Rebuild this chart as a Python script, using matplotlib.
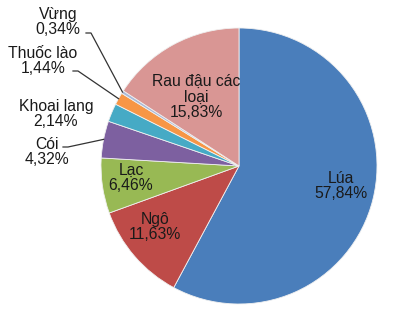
import numpy as np
import matplotlib
matplotlib.use("Agg")
import matplotlib.pyplot as plt

plt.rcParams['font.family'] = ['Liberation Sans', 'DejaVu Sans']

# ── data ──
crops = ['Lúa', 'Ngô', 'Lạc', 'Cói', 'Khoai lang', 'Thuốc lào', 'Vừng',
         'Rau đậu các\nloại']
shares = [57.84, 11.63, 6.46, 4.32, 2.14, 1.44, 0.34, 15.83]
share_text = ['57,84%', '11,63%', '6,46%', '4,32%', '2,14%', '1,44%',
              '0,34%', '15,83%']
colors = ['#4A7EBB', '#BE4B48', '#98B954', '#7D60A0', '#46AAC5',
          '#F79646', '#A9B9D8', '#D99694']

W, H = 399, 314
cx, cy, R = 239, 148, 138   # pie centre / radius in pixel units (y up)

fig = plt.figure(figsize=(W / 100, H / 100), dpi=100)
ax = fig.add_axes([0, 0, 1, 1])

wedges, _ = ax.pie(shares, colors=colors, startangle=90, counterclock=False,
                   center=(cx, cy), radius=R, frame=True,
                   wedgeprops=dict(edgecolor='#f0f0f0', linewidth=0.6))
ax.set_xlim(0, W)
ax.set_ylim(0, H)
ax.set_aspect('equal')
ax.axis('off')

# label anchor positions (pixel, y up)
label_pos = {
    'Lúa': (341, 128),
    'Ngô': (155, 87),
    'Lạc': (131, 136),
    'Cói': (47, 162),
    'Khoai lang': (56, 200),
    'Thuốc lào': (43, 253),
    'Vừng': (58, 292),
    'Rau đậu các\nloại': (196, 217),
}
leader_start = {
    'Cói': (63, 167),
    'Thuốc lào': (73, 243),
    'Vừng': (86, 281),
}

fs = 11.3
cum = 0.0
for name, v, t in zip(crops, shares, share_text):
    mid = cum + v / 2
    cum += v
    x, y = label_pos[name]
    ax.text(x, y, f'{name}\n{t}', ha='center', va='center', fontsize=fs,
            color='#1a1a1a', linespacing=1.05)
    if name in leader_start:
        ang = np.deg2rad(90 - mid / 100 * 360)
        ex, ey = cx + R * np.cos(ang), cy + R * np.sin(ang)
        sx, sy = leader_start[name]
        ax.plot([sx, sx + 5, ex], [sy, sy, ey], color='#333333', lw=0.9)

fig.savefig('out.png', dpi=100, facecolor='white')
